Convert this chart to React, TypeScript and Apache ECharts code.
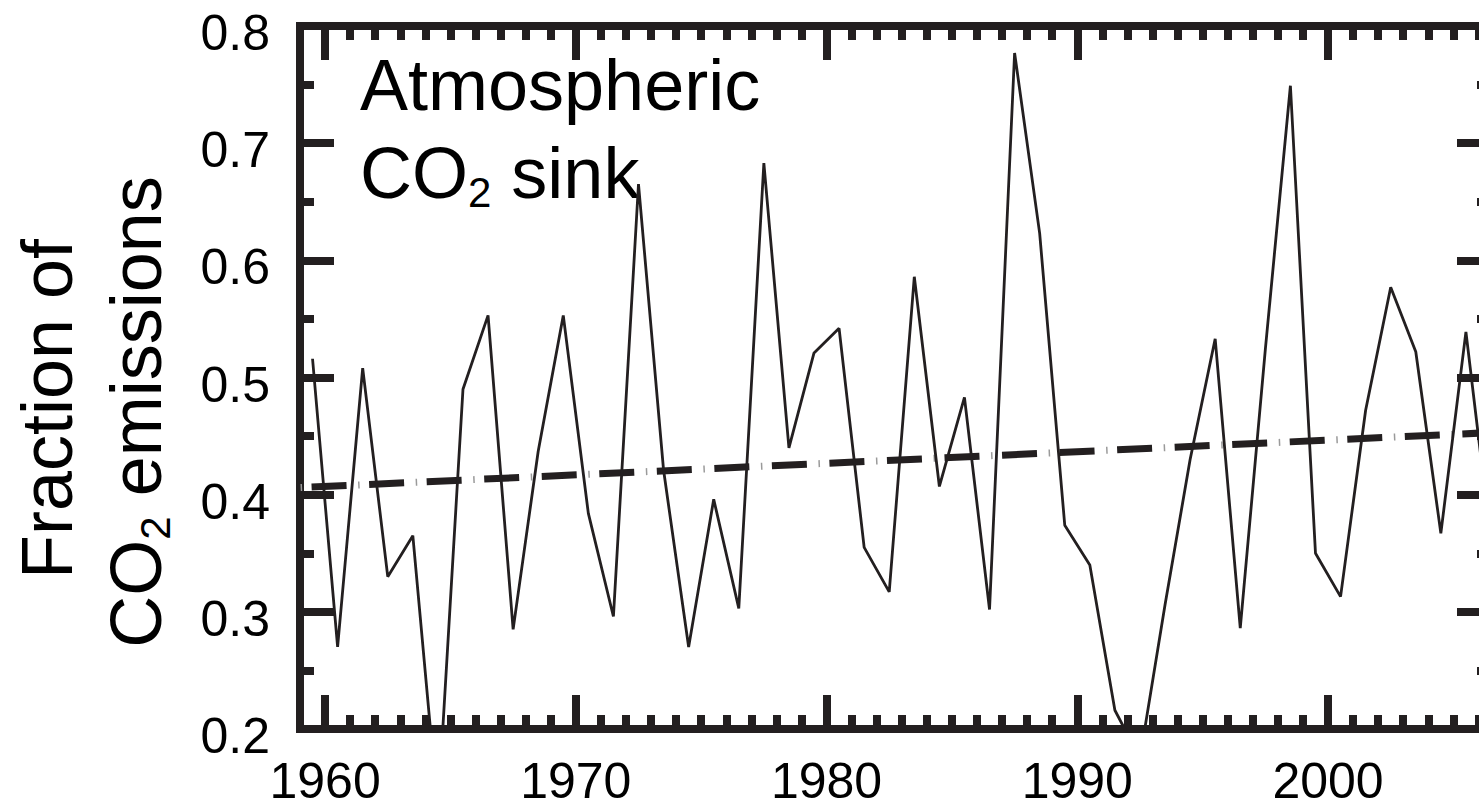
import React, { useEffect, useRef } from 'react';
import * as echarts from 'echarts';

// ---- data ----
const years = [
  1959, 1960, 1961, 1962, 1963, 1964, 1965, 1966, 1967, 1968,
  1969, 1970, 1971, 1972, 1973, 1974, 1975, 1976, 1977, 1978,
  1979, 1980, 1981, 1982, 1983, 1984, 1985, 1986, 1987, 1988,
  1989, 1990, 1991, 1992, 1993, 1994, 1995, 1996, 1997, 1998,
  1999, 2000, 2001, 2002, 2003, 2004, 2005, 2006,
];
const airborneFraction = [
  0.516, 0.270, 0.508, 0.330, 0.365, 0.130, 0.490, 0.553, 0.285, 0.437,
  0.553, 0.384, 0.296, 0.665, 0.421, 0.270, 0.396, 0.303, 0.683, 0.440,
  0.521, 0.542, 0.355, 0.317, 0.586, 0.407, 0.483, 0.302, 0.777, 0.623,
  0.374, 0.340, 0.216, 0.175, 0.306, 0.430, 0.533, 0.286, 0.524, 0.749,
  0.350, 0.313, 0.472, 0.577, 0.522, 0.367, 0.539, 0.360,
];
const trendYears = [1959, 2006.5];
const trendValues = [0.406, 0.453];
const xMajorTicks = [1960, 1970, 1980, 1990, 2000];
const xRange = [1959, 2006.5];
const yRange = [0.2, 0.8];

const INK = '#231f20';
const FONT = '"Liberation Sans", Arial, Helvetica, sans-serif';

function minorXAxis(position: string) {
  return {
    type: 'value',
    position,
    min: xRange[0],
    max: xRange[1],
    interval: 1,
    axisLine: { show: true, onZero: false, lineStyle: { color: INK, width: 8, cap: 'square' } },
    axisTick: { show: true, inside: true, length: 14, lineStyle: { color: INK, width: 8 } },
    axisLabel: { show: false },
    splitLine: { show: false },
  };
}

function majorXAxis(position: string, withLabels: boolean) {
  return {
    type: 'value',
    position,
    min: xRange[0],
    max: xRange[1],
    axisLine: { show: false, onZero: false },
    axisTick: {
      show: true,
      inside: true,
      length: 34,
      customValues: xMajorTicks,
      lineStyle: { color: INK, width: 8 },
    },
    axisLabel: {
      show: withLabels,
      customValues: xMajorTicks,
      margin: 32,
      fontSize: 50,
      lineHeight: 40,
      color: '#000',
      fontFamily: FONT,
      formatter: (v: number) => `${v}`,
    },
    splitLine: { show: false },
  };
}

function yAxisDef(position: string, withLabels: boolean) {
  return {
    type: 'value',
    position,
    min: yRange[0],
    max: yRange[1],
    interval: 0.1,
    axisLine: { show: true, onZero: false, lineStyle: { color: INK, width: 8, cap: 'square' } },
    axisTick: { show: true, inside: true, length: 34, lineStyle: { color: INK, width: 8 } },
    minorTick: { show: true, splitNumber: 2, length: 14, lineStyle: { color: INK, width: 8 } },
    axisLabel: {
      show: withLabels,
      margin: 30,
      fontSize: 50,
      color: '#000',
      fontFamily: FONT,
      verticalAlign: 'top',
      lineHeight: 14,
      formatter: (v: number) => v.toFixed(1),
    },
    splitLine: { show: false },
    minorSplitLine: { show: false },
  };
}

const richCO2 = (size: number) => ({
  a: { fontSize: size, fontFamily: FONT, fill: '#000', color: '#000', lineHeight: 80 },
  b: { fontSize: 42, fontFamily: FONT, fill: '#000', color: '#000', lineHeight: 50, verticalAlign: 'bottom' },
});

export default function App() {
  const ref = useRef<HTMLDivElement>(null);

  useEffect(() => {
    if (!ref.current) return;
    const chart = echarts.init(ref.current, undefined, { renderer: 'svg' });

    const lineData = years.map((y, i) => [y + 0.5, airborneFraction[i]]);
    const trendData = trendYears.map((y, i) => [y, trendValues[i]]);

    chart.setOption({
      animation: false,
      backgroundColor: '#fff',
      grid: { left: 300, right: 109, top: 26, bottom: 79, containLabel: false },
      xAxis: [minorXAxis('bottom'), majorXAxis('bottom', true), minorXAxis('top'), majorXAxis('top', false)],
      yAxis: [yAxisDef('left', true), yAxisDef('right', false)],
      series: [
        {
          type: 'line',
          xAxisIndex: 0,
          yAxisIndex: 0,
          data: trendData,
          symbol: 'none',
          silent: true,
          lineStyle: { color: '#9a9a9a', width: 7, type: [1.5, 56.1], dashOffset: 57.2, cap: 'butt' },
          z: 2,
        },
        {
          type: 'line',
          xAxisIndex: 0,
          yAxisIndex: 0,
          data: trendData,
          symbol: 'none',
          silent: true,
          lineStyle: { color: INK, width: 7, type: [35, 22.6], dashOffset: 45.6, cap: 'butt' },
          z: 3,
        },
        {
          type: 'line',
          xAxisIndex: 0,
          yAxisIndex: 0,
          data: lineData,
          symbol: 'none',
          clip: true,
          lineStyle: { color: INK, width: 2.8 },
          z: 4,
        },
      ],
      graphic: [
        {
          type: 'text',
          x: 47,
          y: 409,
          rotation: Math.PI / 2,
          style: {
            text: 'Fraction of',
            fontSize: 72,
            fontFamily: FONT,
            fill: '#000',
            align: 'center',
            verticalAlign: 'middle',
            textAlign: 'center',
            textVerticalAlign: 'middle',
          },
        },
        {
          type: 'text',
          x: 136,
          y: 412,
          rotation: Math.PI / 2,
          style: {
            text: '{a|CO}{b|2}{a| emissions}',
            rich: richCO2(72),
            fill: '#000',
            align: 'center',
            verticalAlign: 'middle',
            textAlign: 'center',
            textVerticalAlign: 'middle',
          },
        },
        {
          type: 'text',
          x: 360,
          y: 85,
          style: {
            text: 'Atmospheric',
            fontSize: 72,
            fontFamily: FONT,
            fill: '#000',
            align: 'left',
            verticalAlign: 'middle',
            textAlign: 'left',
            textVerticalAlign: 'middle',
          },
        },
        {
          type: 'text',
          x: 360,
          y: 173,
          style: {
            text: '{a|CO}{b|2}{a| sink}',
            rich: richCO2(72),
            fill: '#000',
            align: 'left',
            verticalAlign: 'middle',
            textAlign: 'left',
            textVerticalAlign: 'middle',
          },
        },
      ],
    });

    return () => chart.dispose();
  }, []);

  return (
    <div
      style={{
        position: 'fixed',
        left: 0,
        top: 0,
        width: '100vw',
        height: '100vh',
        overflow: 'hidden',
        background: '#fff',
      }}
    >
      <div ref={ref} style={{ width: 1600, height: 808 }} />
    </div>
  );
}
